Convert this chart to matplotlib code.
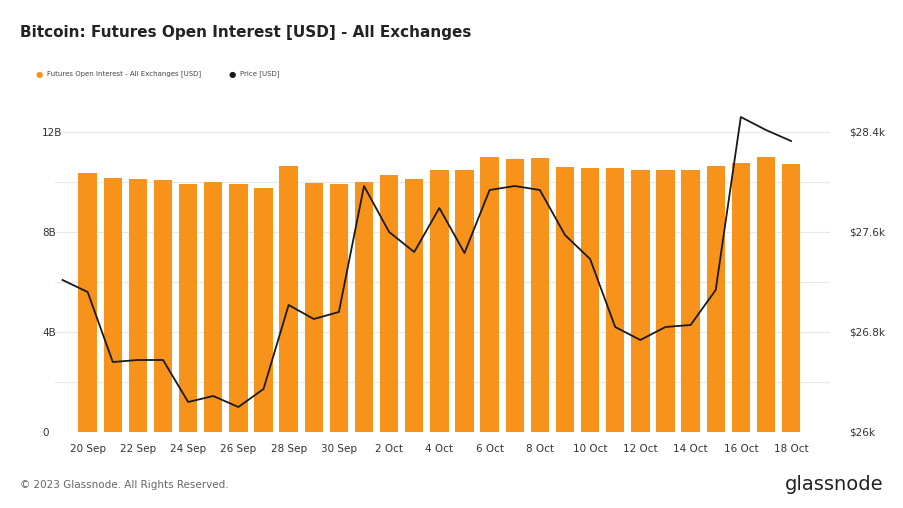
import matplotlib
matplotlib.use("Agg")
import matplotlib.pyplot as plt
import numpy as np

dates = ["19 Sep","20 Sep","21 Sep","22 Sep","23 Sep","24 Sep","25 Sep","26 Sep","27 Sep","28 Sep","29 Sep","30 Sep",
         "1 Oct","2 Oct","3 Oct","4 Oct","5 Oct","6 Oct","7 Oct","8 Oct","9 Oct","10 Oct","11 Oct","12 Oct","13 Oct",
         "14 Oct","15 Oct","16 Oct","17 Oct","18 Oct"]
open_interest_b = [np.nan,10.36,10.16,10.12,10.08,9.92,10.0,9.92,9.76,10.64,9.96,9.92,10.0,10.28,10.12,10.48,10.48,
                   11.0,10.92,10.96,10.6,10.56,10.56,10.48,10.48,10.48,10.64,10.76,11.0,10.72]
price = [27216,27120,26560,26576,26576,26240,26288,26200,26344,27016,26904,26960,27968,27600,27440,27792,27432,
         27936,27968,27936,27576,27384,26840,26736,26840,26856,27136,28520,28416,28328]

W, H = 904, 508
fig = plt.figure(figsize=(W/100, H/100), dpi=100)
ax = fig.add_axes([55/W, 1-432/H, 775/W, 352/H])
x = np.arange(len(dates))
ax.bar(x, open_interest_b, width=0.73, color="#F7931A", zorder=2)
ax.set_xlim(-0.3, 30.55)
ax.set_ylim(0, 352/25)
ax.set_yticks([0, 4, 8, 12])
ax.set_yticklabels(["0", "4B", "8B", "12B"])
for v in np.arange(2, 12.1, 2):
    ax.axhline(v, color="#e8e8e8", lw=0.8, zorder=0)
ax.set_xticks(x[1::2])
ax.set_xticklabels(dates[1::2])
for s in ax.spines.values():
    s.set_visible(False)
ax.tick_params(axis="both", length=0, labelsize=7.5, colors="#333333")
ax.tick_params(axis="y", pad=-5)
for lbl in ax.get_yticklabels():
    lbl.set_horizontalalignment("left")
    lbl.set_x(-20/775)
ax.tick_params(axis="x", pad=9)

ax2 = ax.twinx()
ax2.plot(x, price, color="#1a1a1a", lw=1.3, zorder=3)
ax2.set_ylim(26000, 26000 + 352*8)
ax2.set_yticks([26000, 26800, 27600, 28400])
ax2.set_yticklabels(["$26k", "$26.8k", "$27.6k", "$28.4k"])
for s in ax2.spines.values():
    s.set_visible(False)
ax2.axvline(30.55, color="#e0e0e0", lw=0.8)
ax2.tick_params(axis="y", length=0, labelsize=7.5, colors="#333333", pad=14)

fig.text(20/W, 1-32/H, "Bitcoin: Futures Open Interest [USD] - All Exchanges", fontsize=11,
         va="center", color="#222222", fontweight="semibold")
fig.text(36/W, 1-74/H, "●", fontsize=6, color="#F7931A", va="center")
fig.text(47/W, 1-74/H, "Futures Open Interest - All Exchanges [USD]", fontsize=5, color="#444444", va="center")
fig.text(229/W, 1-74/H, "●", fontsize=6, color="#1a1a1a", va="center")
fig.text(240/W, 1-74/H, "Price [USD]", fontsize=5, color="#444444", va="center")
fig.text(20/W, 1-485/H, "© 2023 Glassnode. All Rights Reserved.", fontsize=7.5, color="#666666", va="center")
fig.text(884/W, 1-485/H, "glassnode", fontsize=14, color="#222222", va="center", ha="right")
fig.savefig("out.png", dpi=100)
